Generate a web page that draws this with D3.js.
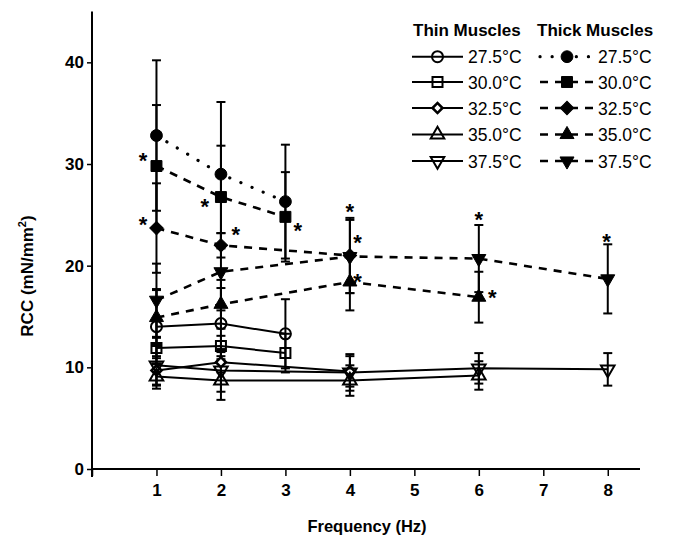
<!DOCTYPE html>
<html><head><meta charset="utf-8">
<script src="https://cdn.jsdelivr.net/npm/d3@7/dist/d3.min.js"></script>
<style>body{margin:0;background:#fff}svg{display:block}text{font-family:"Liberation Sans",Arial,sans-serif}</style>
</head><body><svg id="c" width="673" height="540"></svg>
<script>
// ---- data ----
const xTicks = [0,1,2,3,4,5,6,7,8];
const yTicks = [0,10,20,30,40];
const tempLabels = ["27.5","30.0","32.5","35.0","37.5"];
const symbolsByTemp = ["circle","square","diamond","triangle","triangleDown"];

// thin muscles (open symbols, solid lines)
const thin275X = [1,2,3],     thin275Y = [14.0,14.3,13.3],           thin275E = [3.6,3.5,3.4];
const thin300X = [1,2,3],     thin300Y = [11.9,12.1,11.4],           thin300E = [1.0,1.0,1.9];
const thin325X = [1,2,4],     thin325Y = [9.7,10.5,9.6],             thin325E = [1.4,1.0,1.5];
const thin350X = [1,2,4,6],   thin350Y = [9.1,8.7,8.7,9.2],          thin350E = [1.2,1.9,1.5,1.4];
const thin375X = [1,2,4,6,8], thin375Y = [10.2,9.7,9.5,9.9,9.8],     thin375E = [2.0,2.1,1.8,1.5,1.6];
// thick muscles (filled symbols, dashed / dotted lines)
const thick275X = [1,2,3],     thick275Y = [32.8,29.0,26.3],          thick275E = [7.4,7.1,5.6];
const thick300X = [1,2,3],     thick300Y = [29.8,26.75,24.8],         thick300E = [6.0,5.05,4.4];
const thick325X = [1,2,4],     thick325Y = [23.7,22.0,21.0],          thick325E = [4.4,1.2,3.7];
const thick350X = [1,2,4,6],   thick350Y = [14.9,16.2,18.4,16.9],     thick350E = [2.8,2.4,2.8,2.5];
const thick375X = [1,2,4,6,8], thick375Y = [16.6,19.4,20.9,20.7,18.7], thick375E = [3.6,3.8,3.6,3.3,3.4];

// significance asterisks (data coordinates)
const starX = [0.79,0.79,1.75,2.23,3.19,4.0,4.12,4.12,6.0,6.21,7.98];
const starY = [30.75,24.5,26.3,23.5,23.9,25.8,22.7,18.9,24.95,17.3,22.8];

const thinX=[thin275X,thin300X,thin325X,thin350X,thin375X];
const thinY=[thin275Y,thin300Y,thin325Y,thin350Y,thin375Y];
const thinE=[thin275E,thin300E,thin325E,thin350E,thin375E];
const thickX=[thick275X,thick300X,thick325X,thick350X,thick375X];
const thickY=[thick275Y,thick300Y,thick325Y,thick350Y,thick375Y];
const thickE=[thick275E,thick300E,thick325E,thick350E,thick375E];

const series=[];
tempLabels.forEach((t,i)=>{
  series.push({group:"thin",ti:i,pts:thinX[i].map((x,j)=>({x,y:thinY[i][j],e:thinE[i][j]}))});
});
tempLabels.forEach((t,i)=>{
  series.push({group:"thick",ti:i,pts:thickX[i].map((x,j)=>({x,y:thickY[i][j],e:thickE[i][j]}))});
});

// ---- layout ----
const svg=d3.select("#c");
const x=d3.scaleLinear().domain([0,8.5]).range([92,640]);
const y=d3.scaleLinear().domain([0,45]).range([469,11.5]);

function symPath(name,filled){
  const map={circle:[d3.symbolCircle,filled?110:95],square:[d3.symbolSquare,filled?120:100],
    diamond:[d3.symbolSquare,filled?90:50],triangle:[d3.symbolTriangle,filled?85:80],triangleDown:[d3.symbolTriangle,filled?85:80]};
  const [t,s]=map[name];
  return d3.symbol(t,s)();
}
function lineStyle(sel,s){
  if(s.group==="thin"){sel.attr("stroke-width",2);}
  else if(s.ti===0){sel.attr("stroke-width",3.2).attr("stroke-dasharray","0.1,12").attr("stroke-linecap","round");}
  else {sel.attr("stroke-width",2.6).attr("stroke-dasharray","8,7");}
}
function drawMarker(g,s,px,py){
  const name=symbolsByTemp[s.ti];
  const filled=s.group==="thick";
  const rot=name==="triangleDown"?" rotate(180)":name==="diamond"?" rotate(45)":"";
  g.append("path").attr("d",symPath(name,filled)).attr("transform",`translate(${px},${py})${rot}`)
    .attr("fill",filled?"#000":(name==="diamond"?"#fff":"none")).attr("stroke","#000")
    .attr("stroke-width",filled?1:(name==="diamond"?2.6:2));
}

// axes
const yAxis=d3.axisLeft(y).tickValues(yTicks).tickSize(5).tickPadding(3).tickFormat(d3.format("d"));
const gy=svg.append("g").attr("transform","translate(92,0)").call(yAxis);
gy.select(".domain").remove();
gy.selectAll("line").attr("stroke-width",1.5);
gy.selectAll("text").attr("font-size",17).attr("font-weight","bold").attr("font-family","Liberation Sans, Arial");
svg.append("line").attr("x1",92).attr("x2",92).attr("y1",y(45)).attr("y2",y(0)+8).attr("stroke","#000").attr("stroke-width",2);

const xAxis=d3.axisBottom(x).tickValues(xTicks).tickSize(7).tickPadding(8).tickFormat(d=>d===0?"":d);
const gx=svg.append("g").attr("transform",`translate(0,${y(0)})`).call(xAxis);
gx.select(".domain").remove();
gx.selectAll("line").attr("stroke-width",1.5);
gx.selectAll("text").attr("font-size",17).attr("font-weight","bold").attr("font-family","Liberation Sans, Arial");
svg.append("line").attr("x1",x(0)).attr("x2",x(8.5)).attr("y1",y(0)).attr("y2",y(0)).attr("stroke","#000").attr("stroke-width",2);

// titles
svg.append("text").attr("x",367).attr("y",532).attr("text-anchor","middle").attr("font-size",16.5).attr("font-weight","bold").text("Frequency (Hz)");
const yt=svg.append("text").attr("transform","translate(33,276) rotate(-90)").attr("text-anchor","middle").attr("font-size",17).attr("font-weight","bold");
yt.append("tspan").text("RCC (mN/mm");
yt.append("tspan").attr("font-size",11).attr("dy",-7).text("2");
yt.append("tspan").attr("dy",7).text(")");

// lines
const line=d3.line().x(d=>x(d.x)).y(d=>y(d.y));
const plot=svg.append("g");
series.forEach(s=>{
  plot.append("path").attr("d",line(s.pts)).attr("fill","none").attr("stroke","#000").call(lineStyle,s);
});
// error bars
series.forEach(s=>{
  s.pts.forEach(p=>{
    const g=plot.append("g").attr("stroke","#000").attr("stroke-width",2);
    g.append("line").attr("x1",x(p.x)).attr("x2",x(p.x)).attr("y1",y(p.y-p.e)).attr("y2",y(p.y+p.e));
    [p.y-p.e,p.y+p.e].forEach(v=>g.append("line").attr("x1",x(p.x)-4.5).attr("x2",x(p.x)+4.5).attr("y1",y(v)).attr("y2",y(v)));
  });
});
// markers
series.forEach(s=>{ s.pts.forEach(p=>drawMarker(plot,s,x(p.x),y(p.y))); });

// asterisks
starX.forEach((sx,i)=>{
  svg.append("text").attr("x",x(sx)).attr("y",y(starY[i])+12).attr("text-anchor","middle").attr("font-size",22).attr("font-weight","bold").text("*");
});

// legend
const leg=svg.append("g");
leg.append("text").attr("x",413).attr("y",36).attr("font-size",17).attr("font-weight","bold").text("Thin Muscles");
leg.append("text").attr("x",537).attr("y",36).attr("font-size",17).attr("font-weight","bold").text("Thick Muscles");
const rowY=[56.7,82,108,134.5,161];
series.forEach(s=>{
  const ry=rowY[s.ti];
  const x0=s.group==="thin"?412:540, x1=s.group==="thin"?463:594, tx=s.group==="thin"?468:598;
  leg.append("line").attr("x1",x0).attr("x2",x1).attr("y1",ry).attr("y2",ry).attr("stroke","#000").call(lineStyle,s);
  drawMarker(leg,s,(x0+x1)/2,ry);
  leg.append("text").attr("x",tx).attr("y",ry+6.5).attr("font-size",17.5).text(tempLabels[s.ti]+"°C");
});
</script></body></html>
